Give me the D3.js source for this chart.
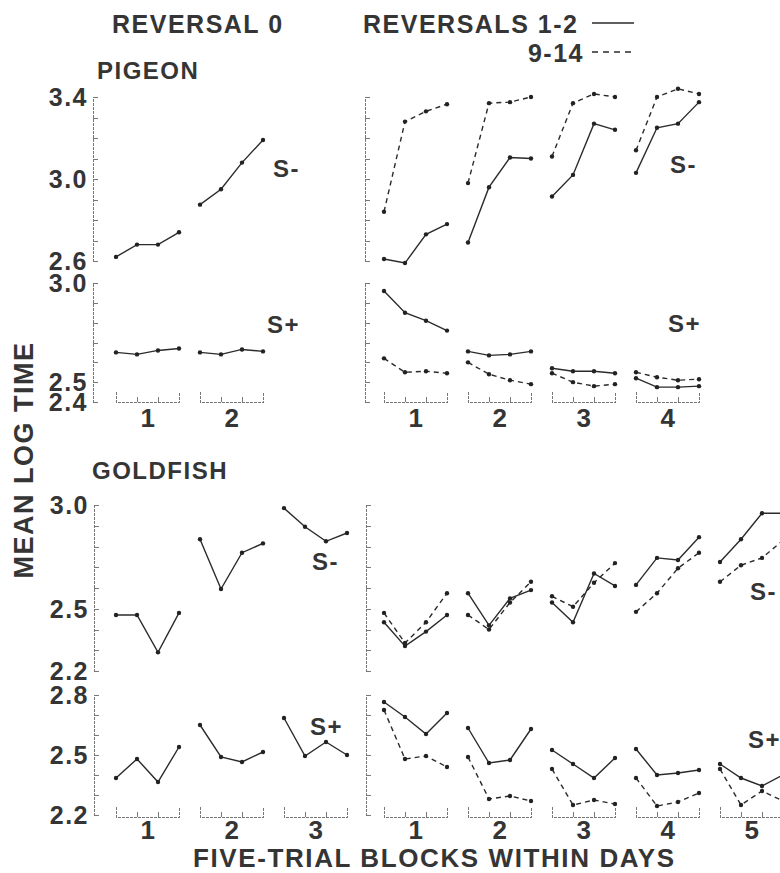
<!DOCTYPE html>
<html>
<head>
<meta charset="utf-8">
<style>
  body { margin: 0; background: #fff; }
  text { font-family: "Liberation Sans", Arial, sans-serif; font-weight: bold; fill: #353535; letter-spacing: 1.5px; }
  .axis path, .axis line { stroke: #777; stroke-width: 1; fill: none; shape-rendering: crispEdges; }
  .axis path { stroke-dasharray: 3,1; }
  .solid { fill: none; stroke: #2b2b2b; stroke-width: 1.4px; }
  .dashed { fill: none; stroke: #2b2b2b; stroke-width: 1.4px; stroke-dasharray: 5,4; }
  .dot { fill: #222; }
</style>
</head>
<body>
<svg width="780" height="873"></svg>
<script src="https://d3js.org/d3.v7.min.js"></script>
<script>
// values: one inner array per day, four five-trial blocks each
var pigeonR0Minus = [[2.62, 2.68, 2.68, 2.74], [2.875, 2.95, 3.08, 3.19]];
var pigeonR0Plus = [[2.65, 2.64, 2.66, 2.67], [2.65, 2.64, 2.665, 2.655]];
var pigeonR12Minus = [[2.61, 2.59, 2.73, 2.78], [2.69, 2.96, 3.105, 3.10], [2.915, 3.02, 3.27, 3.24], [3.03, 3.25, 3.27, 3.375]];
var pigeonR914Minus = [[2.84, 3.28, 3.33, 3.365], [2.98, 3.37, 3.375, 3.40], [3.11, 3.37, 3.415, 3.40], [3.14, 3.40, 3.44, 3.415]];
var pigeonR12Plus = [[2.96, 2.85, 2.81, 2.76], [2.655, 2.635, 2.64, 2.655], [2.57, 2.555, 2.555, 2.545], [2.52, 2.475, 2.475, 2.48]];
var pigeonR914Plus = [[2.62, 2.55, 2.555, 2.545], [2.60, 2.54, 2.51, 2.49], [2.545, 2.50, 2.48, 2.49], [2.55, 2.525, 2.51, 2.515]];

var goldfishR0Minus = [[2.47, 2.47, 2.29, 2.48], [2.835, 2.595, 2.77, 2.815], [2.985, 2.895, 2.825, 2.865]];
var goldfishR0Plus = [[2.385, 2.48, 2.365, 2.54], [2.65, 2.49, 2.465, 2.515], [2.685, 2.495, 2.565, 2.50]];
var goldfishR12Minus = [[2.435, 2.32, 2.39, 2.47], [2.575, 2.42, 2.55, 2.59], [2.53, 2.435, 2.67, 2.61], [2.615, 2.745, 2.735, 2.845], [2.725, 2.835, 2.96, 2.96]];
var goldfishR914Minus = [[2.48, 2.335, 2.435, 2.575], [2.47, 2.40, 2.53, 2.63], [2.56, 2.51, 2.625, 2.72], [2.485, 2.575, 2.695, 2.77], [2.63, 2.71, 2.745, 2.83]];
var goldfishR12Plus = [[2.765, 2.69, 2.605, 2.71], [2.635, 2.46, 2.475, 2.63], [2.525, 2.455, 2.385, 2.485], [2.53, 2.40, 2.41, 2.425], [2.455, 2.385, 2.345, 2.40]];
var goldfishR914Plus = [[2.725, 2.48, 2.495, 2.44], [2.49, 2.28, 2.295, 2.27], [2.43, 2.25, 2.275, 2.255], [2.385, 2.245, 2.265, 2.31], [2.43, 2.25, 2.32, 2.27]];

// tick labels
var pigeonMinusTicks = [3.4, 3.0, 2.6];
var pigeonPlusTicks = [3.0, 2.5, 2.4];
var goldfishMinusTicks = [3.0, 2.5, 2.2];
var goldfishPlusTicks = [2.8, 2.5, 2.2];
var pigeonR0Days = [1, 2];
var pigeonRevDays = [1, 2, 3, 4];
var goldfishR0Days = [1, 2, 3];
var goldfishRevDays = [1, 2, 3, 4, 5];

var svg = d3.select("svg");
var perDay = 4;  // blocks per day; one day = 4 x-units (3 inside + 1 gap)

var xLeft = d3.scaleLinear().domain([0, 12]).range([116, 116 + 12 * 21]);
var xRight = d3.scaleLinear().domain([0, 16]).range([384, 384 + 16 * 21]);

var yPigeonMinus = d3.scaleLinear().domain([2.6, 3.4]).range([261, 97]);
var yPigeonPlus = d3.scaleLinear().domain([2.4, 3.0]).range([402, 283]);
var yGoldMinus = d3.scaleLinear().domain([2.2, 3.0]).range([671, 505]);
var yGoldPlus = d3.scaleLinear().domain([2.2, 2.8]).range([815, 695]);

function fmt(v) { return d3.format(".1f")(v); }

function yAxis(y, x0, labels) {
  var lo = y.domain()[0], hi = y.domain()[1];
  var ticks = d3.range(Math.round((hi - lo) * 10) + 1).map(function(i) { return lo + i / 10; });
  svg.append("g")
      .attr("class", "axis")
      .attr("transform", "translate(" + x0 + ",0)")
      .call(d3.axisRight(y).tickValues(ticks).tickSize(5).tickSizeOuter(5).tickFormat(""));
  if (labels) {
    svg.selectAll(null)
      .data(labels)
      .enter().append("text")
        .attr("x", x0 - 5)
        .attr("y", function(d) { return y(d); })
        .attr("dy", "0.36em")
        .attr("text-anchor", "end")
        .style("font-size", "25px")
        .text(fmt);
  }
}

function brackets(x, days, yb, labelY) {
  days.forEach(function(d) {
    var u0 = (d - 1) * perDay;
    var s = d3.scaleLinear().domain([u0, u0 + 3]).range([x(u0), x(u0 + 3)]);
    svg.append("g")
        .attr("class", "axis")
        .attr("transform", "translate(0," + yb + ")")
        .call(d3.axisBottom(s).tickValues([u0 + 1, u0 + 2]).tickSize(-5).tickSizeOuter(-10).tickFormat(""));
    svg.append("text")
        .attr("x", x(u0 + 1.5) + 1)
        .attr("y", labelY)
        .attr("text-anchor", "middle")
        .style("font-size", "26px")
        .text(d);
  });
}

function series(data, x, y, cls) {
  var line = d3.line()
      .x(function(d) { return x(d.u); })
      .y(function(d) { return y(d.v); });
  data.forEach(function(day, di) {
    var pts = day.map(function(v, t) { return {u: di * perDay + t, v: v}; });
    svg.append("path").datum(pts).attr("class", cls).attr("d", line);
    svg.selectAll(null).data(pts).enter().append("circle")
        .attr("class", "dot")
        .attr("cx", function(d) { return x(d.u); })
        .attr("cy", function(d) { return y(d.v); })
        .attr("r", 2.2);
  });
}

function label(txt, x, y, size, anchor) {
  return svg.append("text")
      .attr("x", x).attr("y", y)
      .attr("text-anchor", anchor || "start")
      .style("font-size", size + "px")
      .text(txt);
}

// axes
yAxis(yPigeonMinus, 93, pigeonMinusTicks);
yAxis(yPigeonPlus, 93, pigeonPlusTicks);
yAxis(yGoldMinus, 94, goldfishMinusTicks);
yAxis(yGoldPlus, 94, goldfishPlusTicks);
yAxis(yPigeonMinus, 365);
yAxis(yPigeonPlus, 365);
yAxis(yGoldMinus, 366);
yAxis(yGoldPlus, 366);

brackets(xLeft, pigeonR0Days, 402, 427);
brackets(xRight, pigeonRevDays, 402, 427);
brackets(xLeft, goldfishR0Days, 817, 839);
brackets(xRight, goldfishRevDays, 817, 839);

// data
series(pigeonR0Minus, xLeft, yPigeonMinus, "solid");
series(pigeonR0Plus, xLeft, yPigeonPlus, "solid");
series(pigeonR12Minus, xRight, yPigeonMinus, "solid");
series(pigeonR914Minus, xRight, yPigeonMinus, "dashed");
series(pigeonR12Plus, xRight, yPigeonPlus, "solid");
series(pigeonR914Plus, xRight, yPigeonPlus, "dashed");
series(goldfishR0Minus, xLeft, yGoldMinus, "solid");
series(goldfishR0Plus, xLeft, yGoldPlus, "solid");
series(goldfishR12Minus, xRight, yGoldMinus, "solid");
series(goldfishR914Minus, xRight, yGoldMinus, "dashed");
series(goldfishR12Plus, xRight, yGoldPlus, "solid");
series(goldfishR914Plus, xRight, yGoldPlus, "dashed");

// titles and legend
label("REVERSAL 0", 112, 33, 25);
label("PIGEON", 97, 79, 24);
label("GOLDFISH", 92, 479, 24);
label("REVERSALS 1-2", 363, 33, 25);
label("9-14", 584, 62, 25, "end");
svg.append("line").attr("class", "solid").attr("x1", 592).attr("x2", 634).attr("y1", 23).attr("y2", 23);
svg.append("line").attr("class", "dashed").attr("x1", 592).attr("x2", 634).attr("y1", 52).attr("y2", 52)
    .style("stroke-dasharray", "6,5");

label("S-", 273, 177, 24);
label("S-", 670, 173, 24);
label("S+", 267, 333, 24);
label("S+", 668, 332, 24);
label("S-", 312, 570, 24);
label("S-", 750, 600, 24);
label("S+", 310, 735, 24);
label("S+", 748, 748, 24);

label("FIVE-TRIAL BLOCKS WITHIN DAYS", 193, 867, 26).style("letter-spacing", "1.6px");
svg.append("text")
    .attr("transform", "translate(33,460) rotate(-90)")
    .attr("text-anchor", "middle")
    .style("font-size", "27px")
    .text("MEAN LOG TIME");
</script>
</body>
</html>
